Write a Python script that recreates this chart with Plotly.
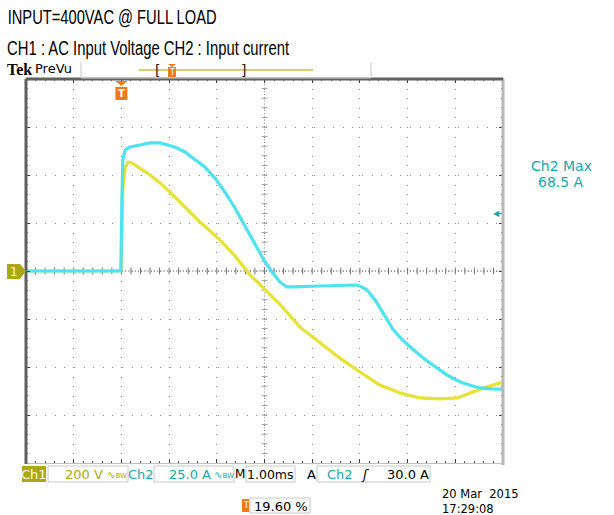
import numpy as np
import plotly.graph_objects as go

W, H = 614, 515

# ---- data (time in ms, CH1 volts, CH2 amps) ----
ch1_t = [0.0, 1.99, 2.01, 2.03, 2.08, 2.14, 2.22, 2.39, 2.60, 2.81, 3.02, 3.33, 3.65, 4.07,
         4.38, 4.70, 5.01, 5.32, 5.74, 6.16, 6.58, 7.00, 7.42, 7.84, 8.26, 8.68, 9.04, 9.37,
         9.66, 10.0]
ch1_v = [0, 0, 171, 338, 429, 454, 450, 429, 400, 367, 329, 267, 204, 129,
         63, -17, -79, -138, -233, -300, -363, -421, -475, -508, -529, -533, -529, -504,
         -483, -463]

ch2_t = [0.0, 1.99, 2.01, 2.03, 2.08, 2.18, 2.39, 2.60, 2.81, 2.96, 3.12, 3.33, 3.54, 3.75,
         3.96, 4.17, 4.38, 4.59, 4.80, 5.01, 5.16, 5.32, 5.47, 5.60, 6.16, 6.94, 7.04, 7.15,
         7.32, 7.48, 7.69, 7.87, 8.05, 8.26, 8.47, 8.65, 8.83, 9.00, 9.16, 9.35, 9.52, 9.75, 10.0]
ch2_i = [0, 0, 37, 57.8, 63, 64.6, 65.6, 66.7, 66.7, 65.8, 64.6, 62.0, 58.3, 54.2,
         48.4, 41.1, 32.8, 23.4, 13.5, 4.7, -0.5, -5.7, -8.3, -8.3, -7.8, -7.3, -8.3, -9.9,
         -15.1, -21.9, -30.2, -35.4, -39.6, -44.0, -47.9, -51.3, -54.2, -56.5, -58.3, -59.8, -60.9, -61.4, -61.5]

V_PER_DIV = 200
A_PER_DIV = 25
MS_PER_DIV = 1.0
TRIG_T = 2.0

# ---- geometry helpers ----
def px(x):
    return x / W

def py(y):
    return 1 - y / H

L, R, T, B = 26, 503, 79, 463

YEL = "#E6E236"
CYN = "#4EE3EF"
OLIVE = "#ABA818"
TEAL = "#1AA6AE"
ORANGE = "#F07A1A"

fig = go.Figure()

fig.add_trace(go.Scatter(x=ch2_t, y=ch2_i, mode="lines", yaxis="y2",
                         line=dict(color=CYN, width=3.2), hoverinfo="skip", showlegend=False))
fig.add_trace(go.Scatter(x=ch1_t, y=ch1_v, mode="lines", yaxis="y",
                         line=dict(color=YEL, width=3.2), hoverinfo="skip", showlegend=False))

shapes = []
ann = []

# center cross (dotted, with minor ticks)
shapes.append(dict(type="line", xref="x", yref="y", x0=0, x1=10 * MS_PER_DIV, y0=0, y1=0,
                   line=dict(color="#303030", width=1, dash="1px,2.2px"), layer="below"))
shapes.append(dict(type="line", xref="x", yref="y", x0=5, x1=5, y0=-4 * V_PER_DIV, y1=4 * V_PER_DIV,
                   line=dict(color="#909090", width=1, dash="1px,2.2px"), layer="below"))
for t in np.arange(0.2, 10, 0.2):
    shapes.append(dict(type="line", xref="x", yref="y", x0=t, x1=t, y0=-14, y1=14,
                       line=dict(color="#707070", width=1), layer="below"))
for v in np.arange(-4 * V_PER_DIV + 40, 4 * V_PER_DIV, 40):
    shapes.append(dict(type="line", xref="x", yref="y", x0=4.94, x1=5.06, y0=v, y1=v,
                       line=dict(color="#a0a0a0", width=1), layer="below"))

# frame
shapes.append(dict(type="line", xref="paper", yref="paper", x0=px(R), x1=px(R), y0=py(T), y1=py(B + 2),
                   line=dict(color="#b8b8b8", width=3)))
shapes.append(dict(type="line", xref="paper", yref="paper", x0=px(L), x1=px(L), y0=py(T), y1=py(B + 1),
                   line=dict(color="#606060", width=3)))
shapes.append(dict(type="line", xref="paper", yref="paper", x0=px(L), x1=px(R), y0=py(T), y1=py(T),
                   line=dict(color="#606060", width=3)))

# Ch1 ground marker
shapes.append(dict(type="path", xref="paper", yref="paper",
                   path="M {a},{b} L {c},{b} L {d},{e} L {c},{f} L {a},{f} Z".format(
                       a=px(7), b=py(264), c=px(20), d=px(26), e=py(271), f=py(279)),
                   fillcolor=OLIVE, line=dict(width=0)))
ann.append(dict(x=px(13.5), y=py(271.5), text="1", font=dict(family="DejaVu Sans", size=12, color="#fffbd0")))

# trigger marker at top
tx = px(L) + (TRIG_T / 10) * (px(R) - px(L))
shapes.append(dict(type="path", xref="paper", yref="paper",
                   path="M {a},{b} L {c},{b} L {d},{e} Z".format(a=tx - 6 / W, c=tx + 6 / W, d=tx, b=py(81), e=py(86)),
                   fillcolor=ORANGE, line=dict(width=0)))
shapes.append(dict(type="rect", xref="paper", yref="paper", x0=tx - 6 / W, x1=tx + 6 / W, y0=py(100), y1=py(87),
                   fillcolor=ORANGE, line=dict(width=0)))
ann.append(dict(x=tx, y=py(93.5), text="<b>T</b>", font=dict(family="DejaVu Sans", size=10, color="white")))

# trigger level arrow at right (30 A)
ann.append(dict(x=px(496), y=py(271 - 30 / A_PER_DIV * 48), text="◀",
                font=dict(family="DejaVu Sans", size=8, color=TEAL)))
shapes.append(dict(type="line", xref="paper", yref="paper", x0=px(496), x1=px(501),
                   y0=py(271 - 30 / A_PER_DIV * 48), y1=py(271 - 30 / A_PER_DIV * 48),
                   line=dict(color=TEAL, width=1)))

# top PreVu bar
shapes.append(dict(type="line", xref="paper", yref="paper", x0=px(81), x1=px(81), y0=py(62), y1=py(78),
                   line=dict(color="#c8c8c8", width=1)))
shapes.append(dict(type="line", xref="paper", yref="paper", x0=px(371), x1=px(371), y0=py(62), y1=py(78),
                   line=dict(color="#c8c8c8", width=1)))
shapes.append(dict(type="line", xref="paper", yref="paper", x0=px(81), x1=px(371), y0=py(78), y1=py(78),
                   line=dict(color="#d8d8d8", width=1)))
shapes.append(dict(type="line", xref="paper", yref="paper", x0=px(139), x1=px(313), y0=py(70), y1=py(70),
                   line=dict(color="#D8D070", width=2)))
ann.append(dict(x=px(157), y=py(70), text="[", font=dict(family="DejaVu Sans", size=14, color="#202020")))
ann.append(dict(x=px(243), y=py(70), text="]", font=dict(family="DejaVu Sans", size=14, color="#202020")))
shapes.append(dict(type="path", xref="paper", yref="paper",
                   path="M {a},{b} L {c},{b} L {d},{e} Z".format(a=px(168), c=px(176), d=px(172), b=py(64), e=py(67)),
                   fillcolor=ORANGE, line=dict(width=0)))
shapes.append(dict(type="rect", xref="paper", yref="paper", x0=px(168), x1=px(176), y0=py(77), y1=py(67),
                   fillcolor=ORANGE, line=dict(width=0)))
ann.append(dict(x=px(172), y=py(72), text="T", font=dict(family="DejaVu Sans", size=8, color="white")))

# titles (narrow look obtained by compressing text length after render)
TF = "Liberation Sans, Arial, sans-serif"
ann.append(dict(x=px(7 + 209 / 2), y=py(17), text="INPUT=400VAC @ FULL LOAD",
                font=dict(family=TF, size=20, color="black")))
ann.append(dict(x=px(7 + 282 / 2), y=py(48), text="CH1 : AC Input Voltage CH2 : Input current",
                font=dict(family=TF, size=20, color="black")))
ann.append(dict(x=px(6), y=py(70), text="<b>Tek</b>", xanchor="left",
                font=dict(family="Liberation Serif", size=16, color="black")))
ann.append(dict(x=px(34), y=py(69), text="PreVu", xanchor="left",
                font=dict(family="DejaVu Sans", size=13, color="black")))

# Ch2 max measurement
ann.append(dict(x=px(561), y=py(166), text="Ch2 Max", font=dict(family="DejaVu Sans", size=14, color=TEAL)))
ann.append(dict(x=px(561), y=py(182), text="68.5 A", font=dict(family="DejaVu Sans", size=14, color=TEAL)))

# status row
SY = 474
SF = "DejaVu Sans"
shapes.append(dict(type="rect", xref="paper", yref="paper", x0=px(22), x1=px(46), y0=py(482), y1=py(466),
                   fillcolor=OLIVE, line=dict(width=0)))
ann.append(dict(x=px(34), y=py(SY), text="Ch1", font=dict(family=SF, size=13, color="#fffbe0")))
for x0, x1 in [(48, 128), (154, 234), (246, 295), (317, 430)]:
    shapes.append(dict(type="rect", xref="paper", yref="paper", x0=px(x0), x1=px(x1), y0=py(482), y1=py(466),
                       line=dict(color="#c8c8c8", width=1)))
ann.append(dict(x=px(104), y=py(SY), xanchor="right", text="%d V" % V_PER_DIV,
                font=dict(family=SF, size=13, color=OLIVE)))
ann.append(dict(x=px(117), y=py(SY), text="∿<span style='font-size:7px'>BW</span>",
                font=dict(family=SF, size=10, color=OLIVE)))
ann.append(dict(x=px(141), y=py(SY), text="Ch2", font=dict(family=SF, size=13, color=TEAL)))
ann.append(dict(x=px(212), y=py(SY), xanchor="right", text="%.1f A" % A_PER_DIV,
                font=dict(family=SF, size=13, color=TEAL)))
ann.append(dict(x=px(224), y=py(SY), text="∿<span style='font-size:7px'>BW</span>",
                font=dict(family=SF, size=10, color=TEAL)))
ann.append(dict(x=px(240), y=py(SY), text="M", font=dict(family=SF, size=12, color="black")))
ann.append(dict(x=px(270.5), y=py(SY), text="%.2fms" % MS_PER_DIV, font=dict(family=SF, size=12.5, color="black")))
ann.append(dict(x=px(311), y=py(SY), text="A", font=dict(family=SF, size=13, color="black")))
ann.append(dict(x=px(340), y=py(SY), text="Ch2", font=dict(family=SF, size=13, color=TEAL)))
ann.append(dict(x=px(365), y=py(SY), text="<i>ʃ</i>", font=dict(family=SF, size=13, color="black")))
ann.append(dict(x=px(430), y=py(SY), xanchor="right", text="30.0 A", font=dict(family=SF, size=13, color="black")))

# trigger position / date
shapes.append(dict(type="rect", xref="paper", yref="paper", x0=px(242), x1=px(249), y0=py(512), y1=py(499),
                   fillcolor=ORANGE, line=dict(width=0)))
ann.append(dict(x=px(245.5), y=py(505.5), text="T", font=dict(family=SF, size=8, color="white")))
shapes.append(dict(type="rect", xref="paper", yref="paper", x0=px(250), x1=px(310), y0=py(513), y1=py(498),
                   line=dict(color="#c8c8c8", width=1)))
ann.append(dict(x=px(253), y=py(506), xanchor="left", text="19.60 %", font=dict(family=SF, size=13, color="black")))
ann.append(dict(x=px(441), y=py(494), xanchor="left", text="20 Mar  2015", font=dict(family=SF, size=11.5, color="black")))
ann.append(dict(x=px(441), y=py(509), xanchor="left", text="17:29:08", font=dict(family=SF, size=11.5, color="black")))

for a in ann:
    a.setdefault("xref", "paper")
    a.setdefault("yref", "paper")
    a.setdefault("xanchor", "center")
    a.setdefault("yanchor", "middle")
    a.setdefault("showarrow", False)
    a.setdefault("borderpad", 0)

fig.update_layout(
    width=W, height=H, autosize=False,
    margin=dict(l=0, r=0, t=0, b=0),
    paper_bgcolor="white", plot_bgcolor="white",
    xaxis=dict(domain=[px(L), px(R)], range=[0, 10 * MS_PER_DIV], dtick=MS_PER_DIV,
               showticklabels=False, showgrid=True, gridcolor="#8c8c8c", griddash="1px,8.6px", gridwidth=1,
               zeroline=False, showline=True, linecolor="#c0c0c0", linewidth=1, mirror="ticks",
               ticks="inside", ticklen=4, tickcolor="#404040",
               minor=dict(dtick=MS_PER_DIV / 5, ticks="inside", ticklen=2, tickcolor="#606060")),
    yaxis=dict(domain=[py(B), py(T)], range=[-4 * V_PER_DIV, 4 * V_PER_DIV], dtick=V_PER_DIV,
               showticklabels=False, showgrid=True, gridcolor="#8c8c8c", griddash="1px,8.6px", gridwidth=1,
               zeroline=False, showline=True, linecolor="#c0c0c0", linewidth=1, mirror="ticks",
               ticks="inside", ticklen=4, tickcolor="#404040",
               minor=dict(dtick=V_PER_DIV / 5, ticks="inside", ticklen=2, tickcolor="#606060")),
    yaxis2=dict(overlaying="y", range=[-4 * A_PER_DIV, 4 * A_PER_DIV], visible=False),
    shapes=shapes, annotations=ann,
)

POST = """
document.body.style.margin='0px';
document.body.style.overflow='hidden';
var gd = document.getElementById('{plot_id}');
var fits = [['INPUT=', 209], ['CH1 :', 282]];
gd.querySelectorAll('text.annotation-text').forEach(function(t) {
  var s = t.textContent;
  fits.forEach(function(f) {
    if (s.indexOf(f[0]) === 0) {
      t.setAttribute('textLength', String(f[1]));
      t.setAttribute('lengthAdjust', 'spacingAndGlyphs');
    }
  });
});
"""

fig.write_html("out.html", config={"displayModeBar": False}, post_script=POST)
